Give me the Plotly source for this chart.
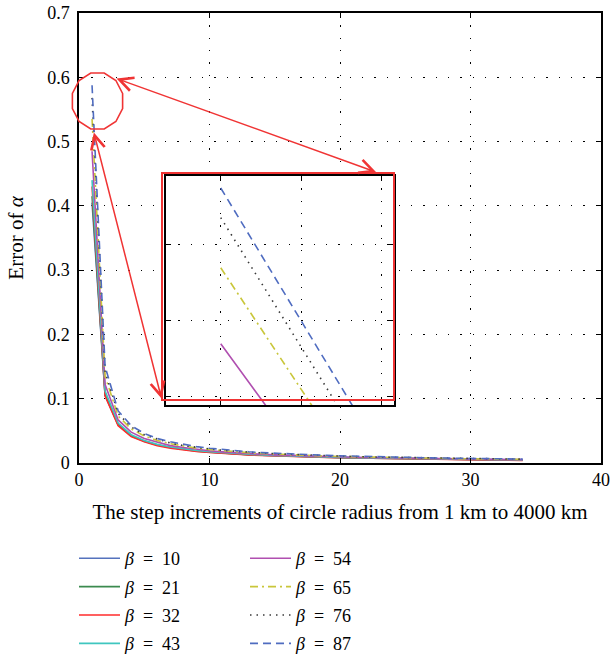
import math
import plotly.graph_objects as go

# ---------------- data ----------------
X_STEPS = list(range(1, 35))
BETAS = [10, 21, 32, 43, 54, 65, 76, 87]

beta10 = [0.405, 0.105, 0.060, 0.043, 0.034, 0.028, 0.024, 0.021, 0.019, 0.017, 0.0155, 0.0142, 0.0131, 0.0122, 0.0114, 0.0107, 0.0100, 0.0095, 0.0090, 0.0085, 0.0081, 0.0077, 0.0073, 0.0070, 0.0067, 0.0064, 0.0061, 0.0059, 0.0057, 0.0055, 0.0052, 0.0050, 0.0048, 0.0046]
beta21 = [0.415, 0.106, 0.059, 0.042, 0.034, 0.028, 0.024, 0.021, 0.0185, 0.0168, 0.0152, 0.0140, 0.0129, 0.0120, 0.0112, 0.0105, 0.0099, 0.0093, 0.0088, 0.0084, 0.0080, 0.0076, 0.0072, 0.0069, 0.0066, 0.0063, 0.0060, 0.0058, 0.0056, 0.0054, 0.0051, 0.0049, 0.0047, 0.0045]
beta32 = [0.430, 0.104, 0.058, 0.041, 0.033, 0.027, 0.023, 0.020, 0.018, 0.0163, 0.0148, 0.0136, 0.0126, 0.0117, 0.0109, 0.0102, 0.0096, 0.0091, 0.0086, 0.0082, 0.0078, 0.0074, 0.0071, 0.0068, 0.0065, 0.0062, 0.0059, 0.0057, 0.0054, 0.0052, 0.0049, 0.0046, 0.0043, 0.0040]
beta43 = [0.440, 0.112, 0.062, 0.044, 0.035, 0.029, 0.025, 0.022, 0.0195, 0.0175, 0.0160, 0.0146, 0.0135, 0.0125, 0.0117, 0.0109, 0.0102, 0.0097, 0.0092, 0.0087, 0.0083, 0.0079, 0.0075, 0.0072, 0.0069, 0.0066, 0.0063, 0.0061, 0.0058, 0.0056, 0.0054, 0.0052, 0.0050, 0.0048]
beta54 = [0.485, 0.122, 0.067, 0.048, 0.038, 0.032, 0.027, 0.024, 0.021, 0.019, 0.0173, 0.0158, 0.0146, 0.0135, 0.0126, 0.0118, 0.0111, 0.0105, 0.0099, 0.0094, 0.0089, 0.0085, 0.0081, 0.0077, 0.0074, 0.0071, 0.0068, 0.0065, 0.0063, 0.0060, 0.0058, 0.0056, 0.0054, 0.0052]
beta65 = [0.535, 0.135, 0.073, 0.053, 0.042, 0.035, 0.030, 0.026, 0.023, 0.021, 0.0190, 0.0174, 0.0160, 0.0148, 0.0138, 0.0129, 0.0121, 0.0114, 0.0108, 0.0102, 0.0097, 0.0092, 0.0088, 0.0084, 0.0080, 0.0077, 0.0074, 0.0071, 0.0068, 0.0065, 0.0063, 0.0060, 0.0058, 0.0056]
beta76 = [0.568, 0.142, 0.077, 0.056, 0.044, 0.037, 0.031, 0.027, 0.024, 0.022, 0.0198, 0.0181, 0.0167, 0.0155, 0.0144, 0.0135, 0.0127, 0.0119, 0.0113, 0.0107, 0.0101, 0.0096, 0.0092, 0.0088, 0.0084, 0.0080, 0.0077, 0.0074, 0.0071, 0.0068, 0.0066, 0.0063, 0.0061, 0.0059]
beta87 = [0.5875, 0.150, 0.081, 0.058, 0.046, 0.038, 0.033, 0.029, 0.0255, 0.023, 0.0208, 0.0190, 0.0175, 0.0162, 0.0151, 0.0141, 0.0133, 0.0125, 0.0118, 0.0112, 0.0106, 0.0101, 0.0096, 0.0092, 0.0088, 0.0084, 0.0080, 0.0077, 0.0074, 0.0071, 0.0068, 0.0066, 0.0063, 0.0061]
SERIES = [beta10, beta21, beta32, beta43, beta54, beta65, beta76, beta87]

X_TICKS = [0, 10, 20, 30, 40]
Y_TICKS = [0, 0.1, 0.2, 0.3, 0.4, 0.5, 0.6, 0.7]
X_TITLE = "The step increments of circle radius from 1 km to 4000 km"
Y_TITLE = "Error of <i>α</i>"

# ---------------- style ----------------
COLORS = ["#5572bd", "#3b8a4f", "#ff2b2b", "#3fc6bf", "#b04fb0", "#c9c63a", "#3a3a3a", "#4f6cc0"]
DASHES = ["solid", "solid", "solid", "solid", "solid", "8px,4px,2px,4px", "1.5px,5px", "8px,5px"]
FONT = "Liberation Serif"
RED = "#f03434"

W, H = 610, 654
ML, MR, MT, MB = 79, 9, 13, 191
PW, PH = W - ML - MR, H - MT - MB
X_RANGE = [0, 40]
Y_RANGE = [0, 0.7]


def px_to_paper(px, py):
    return (px - ML) / PW, (H - MB - py) / PH


def px_to_data(px, py):
    return (X_RANGE[0] + (px - ML) / PW * (X_RANGE[1] - X_RANGE[0]),
            Y_RANGE[0] + (H - MB - py) / PH * (Y_RANGE[1] - Y_RANGE[0]))


fig = go.Figure()

for i, (b, vals) in enumerate(zip(BETAS, SERIES)):
    fig.add_trace(go.Scatter(
        x=X_STEPS, y=vals, mode="lines",
        name=f"<i>β</i>\u2002=\u2002{b}",
        line=dict(color=COLORS[i], width=1.6, dash=DASHES[i]),
        legend="legend" if i < 4 else "legend2",
        legendgroup=f"g{b}",
        hoverinfo="skip",
    ))
# inset: same data, zoomed
for i, (b, vals) in enumerate(zip(BETAS, SERIES)):
    fig.add_trace(go.Scatter(
        x=X_STEPS, y=vals, mode="lines", showlegend=False,
        line=dict(color=COLORS[i], width=1.6, dash=DASHES[i]),
        xaxis="x2", yaxis="y2", hoverinfo="skip",
    ))

# inset placement (pixels)
IN_L, IN_R, IN_T, IN_B = 166, 394, 176, 405
ix0, iy0 = px_to_paper(IN_L, IN_B)
ix1, iy1 = px_to_paper(IN_R, IN_T)

axis_common = dict(showline=True, linecolor="black", linewidth=1.5, mirror="ticks",
                   ticks="inside", ticklen=5, tickcolor="black", tickwidth=1.2,
                   showgrid=True, gridcolor="black", gridwidth=1.3, griddash="1.3px,11px",
                   zeroline=False)

LEG_TOP = 540
fig.update_layout(
    width=W, height=H,
    margin=dict(l=ML, r=MR, t=MT, b=MB, autoexpand=False),
    paper_bgcolor="white", plot_bgcolor="white",
    font=dict(family=FONT, size=18, color="black"),
    xaxis=dict(range=X_RANGE, tickvals=X_TICKS, title=dict(text=X_TITLE, standoff=15, font=dict(size=21)),
               **axis_common),
    yaxis=dict(range=Y_RANGE, tickvals=Y_TICKS, ticklabelstandoff=4,
               title=dict(text=Y_TITLE, standoff=18, font=dict(size=21)),
               **axis_common),
    xaxis2=dict(domain=[ix0, ix1], anchor="y2", range=[0.864, 1.4306], tick0=1, dtick=0.2,
                showticklabels=False, **axis_common),
    yaxis2=dict(domain=[iy0, iy1], anchor="x2", range=[0.4447, 0.5954], tick0=0.5, dtick=0.05,
                showticklabels=False, **axis_common),
    legend=dict(x=px_to_paper(74, 0)[0], y=px_to_paper(0, LEG_TOP)[1], xanchor="left", yanchor="top",
                bgcolor="rgba(0,0,0,0)", itemwidth=41, tracegroupgap=2, font=dict(size=18)),
    legend2=dict(x=px_to_paper(245, 0)[0], y=px_to_paper(0, LEG_TOP)[1], xanchor="left", yanchor="top",
                 bgcolor="rgba(0,0,0,0)", itemwidth=41, tracegroupgap=2, font=dict(size=18)),
    showlegend=True,
)

# red rectangle around inset
rx0, ry0 = px_to_paper(162, 400)
rx1, ry1 = px_to_paper(394, 173)
fig.add_shape(type="rect", xref="paper", yref="paper", x0=rx0, y0=ry0, x1=rx1, y1=ry1,
              line=dict(color=RED, width=2), layer="above")

# red 12-gon "circle" around zoom region
CX, CY, RX, RY = 97.5, 101, 26, 29
pts = []
for k in range(12):
    a = math.radians(15 + 30 * k)
    pts.append(px_to_paper(CX + RX * math.cos(a), CY - RY * math.sin(a)))
path = "M " + " L ".join(f"{p[0]:.5f},{p[1]:.5f}" for p in pts) + " Z"
fig.add_shape(type="path", xref="paper", yref="paper", path=path,
              line=dict(color=RED, width=1.6), layer="above")

# double-headed arrows
for (hx, hy), (tx, ty) in [((376, 172), (115, 78)), ((161.5, 398.5), (93.5, 131))]:
    hdx, hdy = px_to_data(hx, hy)
    tdx, tdy = px_to_data(tx, ty)
    fig.add_annotation(x=hdx, y=hdy, ax=tdx, ay=tdy, xref="x", yref="y", axref="x", ayref="y",
                       showarrow=True, arrowhead=5, startarrowhead=5, arrowside="end+start",
                       arrowsize=1.8, startarrowsize=1.8, arrowwidth=1.5, arrowcolor=RED,
                       text="", standoff=0, startstandoff=0)

fig.write_html("out.html")
